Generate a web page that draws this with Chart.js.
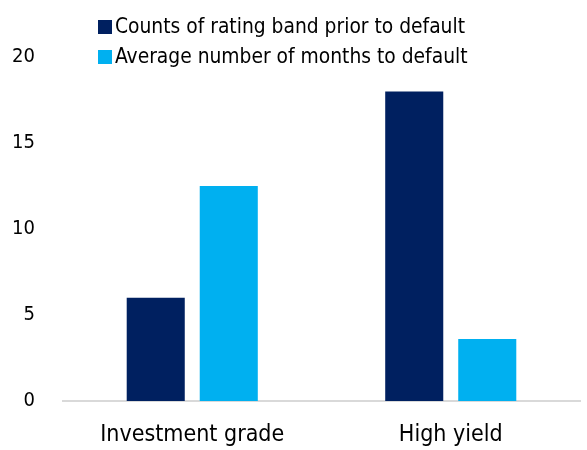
<!DOCTYPE html>
<html>
<head>
<meta charset="utf-8">
<script src="https://cdn.jsdelivr.net/npm/chart.js@4"></script>
<style>
  body { margin: 0; background: #fff; }
  #wrap { position: relative; width: 587px; height: 450px; }
  canvas { display: block; }
  #legend { position: absolute; left: 98px; top: 11px; font-family: "DejaVu Sans Condensed", "DejaVu Sans", sans-serif; font-size: 20.8px; color: #000; }
  #legend div { height: 30px; line-height: 30px; white-space: nowrap; }
  #legend span { display: inline-block; width: 14px; height: 14px; margin-right: 3px; vertical-align: -1px; }
</style>
</head>
<body>
<div id="wrap">
  <canvas id="chart" width="587" height="450"></canvas>
  <div id="legend"></div>
</div>
<script>
// ---------------- DATA ----------------
const categories = ["Investment grade", "High yield"];
const countsPrior = [6, 18];
const avgMonths = [12.5, 3.6];
const seriesNames = ["Counts of rating band prior to default", "Average number of months to default"];
const seriesColors = ["#002060", "#00B0F0"];

// ---------------- LEGEND ----------------
const legendEl = document.getElementById("legend");
seriesNames.forEach((name, i) => {
    legendEl.innerHTML += '<div><span style="background:' + seriesColors[i] + '"></span>' + name + '</div>';
});

// ---------------- CHART ----------------
const fam = "'DejaVu Sans Condensed', 'DejaVu Sans', sans-serif";

new Chart(document.getElementById("chart"), {
    type: "bar",
    data: {
        labels: categories,
        datasets: [
            { label: seriesNames[0], data: countsPrior, backgroundColor: seriesColors[0] },
            { label: seriesNames[1], data: avgMonths, backgroundColor: seriesColors[1] }
        ]
    },
    options: {
        responsive: false,
        animation: false,
        layout: { padding: { top: 57, right: 7, left: 0, bottom: 0 } },
        plugins: { legend: { display: false }, tooltip: { enabled: false } },
        datasets: { bar: { categoryPercentage: 0.565, barPercentage: 0.795 } },
        scales: {
            x: {
                grid: { display: false },
                border: { color: "#d9d9d9", width: 2 },
                ticks: { color: "#000", font: { family: fam, size: 23 }, padding: 12 },
                afterFit: s => { s.height = 49; }
            },
            y: {
                min: 0, max: 20,
                grid: { display: false },
                border: { display: false },
                ticks: { stepSize: 5, color: "#000", font: { family: fam, size: 20 }, padding: 20 },
                afterFit: s => { s.width = 63; }
            }
        }
    }
});
</script>
</body>
</html>
